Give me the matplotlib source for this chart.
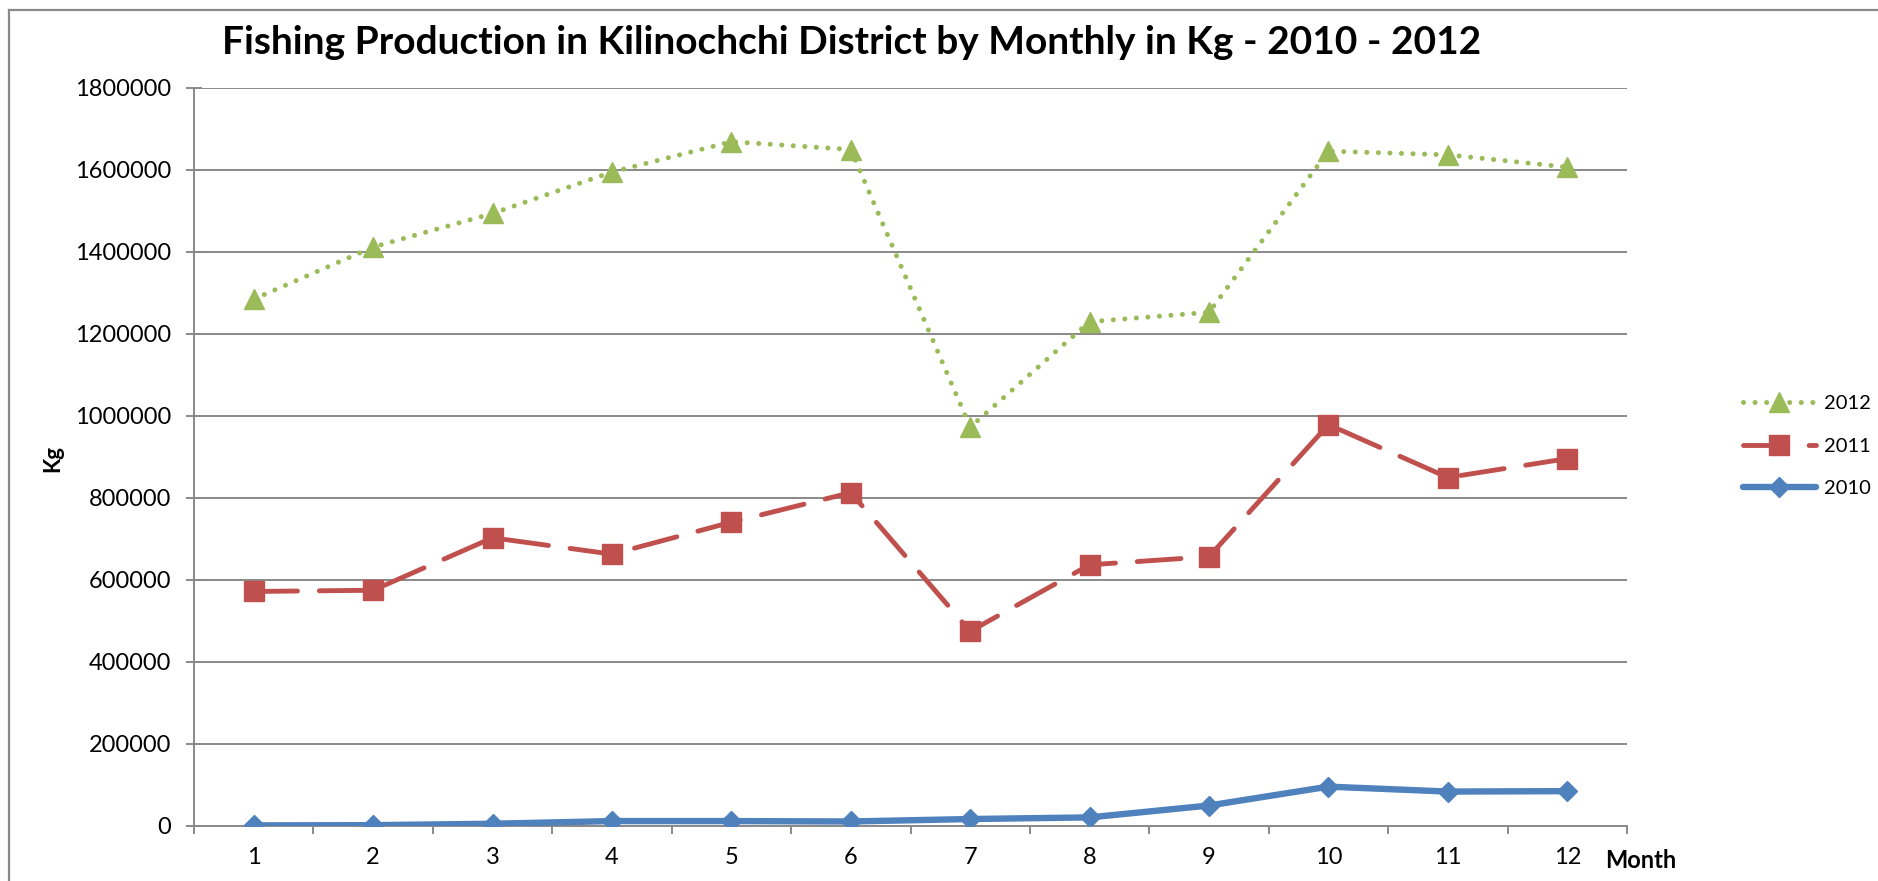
import numpy as np
import matplotlib
matplotlib.use("Agg")  # no display
import matplotlib.pyplot as plt
import matplotlib.ticker as ticker
from matplotlib.lines import Line2D

# ── Data ──────────────────────────────────────────────────────────────────────

months = list(range(1, 13))
kg_2012 = [1285000, 1412000, 1494000, 1595000, 1669000, 1650000,
           973000, 1230000, 1253000, 1646000, 1637000, 1607000]
kg_2011 = [572000, 575000, 703000, 663000, 741000, 813000,
           475000, 637000, 657000, 979000, 850000, 896000]
kg_2010 = [1500, 2000, 5500, 12000, 12000, 11000,
           17000, 21000, 50000, 96000, 84000, 85000]
y_ticks = list(range(0, 1800001, 200000))

# ── Style ─────────────────────────────────────────────────────────────────────

plt.rcParams["font.family"] = ["Lato", "DejaVu Sans"]
GRID   = "#898989"
GREEN  = "#9BBB59"
RED    = "#C0504D"
BLUE   = "#4F81BD"

W, H = 1878, 881
fig = plt.figure(figsize=(W / 100, H / 100), dpi=100)
ax = fig.add_axes([194 / W, 1 - 826 / H, (1627 - 194) / W, (826 - 88) / H])

# outer chart frame (only top and left edges are visible in the original)
fig.add_artist(Line2D([9 / W, 1.0], [1 - 10 / H] * 2, color=GRID, lw=1.6,
                      transform=fig.transFigure))
fig.add_artist(Line2D([9 / W] * 2, [0.0, 1 - 10 / H], color=GRID, lw=1.6,
                      transform=fig.transFigure))

# ── Series ────────────────────────────────────────────────────────────────────

l10, = ax.plot(months, kg_2010, color=BLUE, lw=4.6, marker="D", ms=10.5,
               solid_joinstyle="round", solid_capstyle="round", label="2010", zorder=3)
l11, = ax.plot(months, kg_2011, color=RED, lw=3.5, ls=(0, (9, 4.5)),
               dash_capstyle="round", marker="s", ms=14, label="2011", zorder=3)
l12, = ax.plot(months, kg_2012, color=GREEN, lw=3.6, ls=(0, (0.01, 2.3)),
               dash_capstyle="round", marker="^", ms=14.5, label="2012", zorder=3)

# ── Axes ──────────────────────────────────────────────────────────────────────

ax.set_xlim(0.5, 12.5)
ax.set_ylim(0, 1800000)
ax.set_xticks(months)
ax.set_xticks(np.arange(0.5, 12.6, 1), minor=True)
ax.set_yticks(y_ticks)
ax.yaxis.set_major_formatter(ticker.FuncFormatter(lambda v, _: f"{v:.0f}"))

ax.tick_params(axis="x", which="major", length=0, pad=15, labelsize=17)
ax.tick_params(axis="x", which="minor", length=6, width=1.4, color=GRID, direction="out")
ax.tick_params(axis="y", length=11, width=1.4, color=GRID, direction="inout",
               pad=11, labelsize=17)

ax.grid(axis="y", color=GRID, lw=1.4)
ax.set_axisbelow(True)
for s in ("top", "right"):
    ax.spines[s].set_visible(False)
for s in ("left", "bottom"):
    ax.spines[s].set_color(GRID)
    ax.spines[s].set_linewidth(1.4)

# ── Text ──────────────────────────────────────────────────────────────────────

fig.text(852 / W, 1 - 43 / H,
         "Fishing Production in Kilinochchi District by Monthly in Kg - 2010 - 2012",
         ha="center", va="center", fontsize=28, fontweight="bold")
fig.text(53 / W, 1 - 458 / H, "Kg", rotation=90, ha="center", va="center",
         fontsize=16, fontweight="bold")
fig.text(1605 / W, 1 - 861 / H, "Month", ha="left", va="center",
         fontsize=17, fontweight="bold")

fig.legend(handles=[l12, l11, l10], loc="upper left",
           bbox_to_anchor=(1743 / W, 1 - 395 / H), frameon=False,
           fontsize=14.5, handlelength=3.6, handletextpad=0.4,
           labelspacing=1.27, borderpad=0, borderaxespad=0)

fig.savefig("out.png", dpi=100)
